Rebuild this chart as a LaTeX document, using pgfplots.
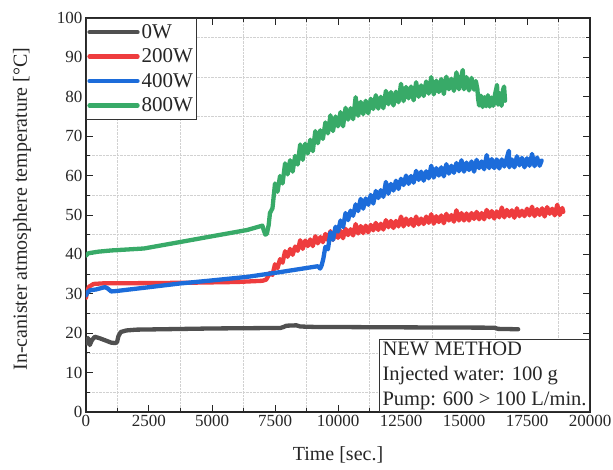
\documentclass[border=0pt]{standalone}
\usepackage{pgfplots}
\pgfplotsset{compat=1.18}
\usepackage{fontspec}
\setmainfont{Liberation Serif}

\definecolor{cgray}{RGB}{80,80,80}
\definecolor{cred}{RGB}{238,60,62}
\definecolor{cblue}{RGB}{28,108,218}
\definecolor{cgreen}{RGB}{56,170,104}

\begin{document}
\begin{tikzpicture}
\useasboundingbox (-86pt,-57pt) rectangle (527pt,412pt);
\begin{axis}[
  scale only axis,
  width=504pt, height=394pt,
  xmin=0, xmax=20000, ymin=0, ymax=100,
  xtick={0,2500,...,20000}, ytick={0,10,...,100},
  minor x tick num=1, minor y tick num=1,
  scaled x ticks=false,
  xticklabel={\textrm{\pgfmathprintnumber[assume math mode=true,1000 sep={},fixed,precision=0]{\tick}}},
  yticklabel={\textrm{\pgfmathprintnumber[assume math mode=true,fixed,precision=0]{\tick}}},
  tick label style={font=\fontsize{17}{18}\selectfont, black!85},
  label style={font=\fontsize{20}{22}\selectfont, black!85},
  xlabel={Time [sec.]},
  ylabel={In-canister atmosphere temperature [°C]},
  xlabel style={at={(axis description cs:0.5,-0.108)}, anchor=center},
  ylabel style={at={(axis description cs:-0.127,0.515)}, anchor=center},
  grid=minor,
  minor grid style={densely dotted, black!18, line width=0.8pt},
  major tick length=7pt, minor tick length=4pt,
  tick style={line width=1pt, black!85},
  axis line style={line width=1.2pt, black!85},
  every axis plot/.append style={line width=4.3pt, line join=round, line cap=round},
  legend style={at={(0,1)}, anchor=north west, draw=black!80, line width=0.8pt,
    font=\fontsize{21}{22}\selectfont, inner xsep=1pt, inner ysep=4pt,
    row sep=5pt, cells={anchor=west}, text=black!85},
  legend image code/.code={\draw[#1, line width=4.3pt, line cap=round] (0pt,0pt) -- (48pt,0pt);},
]
\addplot[cgray] coordinates {
(0,18.4)(30,17.4)(80,18.8)(150,17.0)(230,18.2)(350,19.1)(550,18.7)(800,18.1)
(1000,17.6)(1150,17.5)(1230,17.7)(1290,19.3)(1380,20.3)(1600,20.7)(2000,20.9)
(3000,21.0)(5000,21.2)(7000,21.3)(7700,21.3)(7850,21.6)(7950,21.9)(8350,22.0)
(8500,21.7)(9000,21.6)(12000,21.5)(16200,21.4)(16350,21.1)(17150,21.0)};
\addlegendentry{0W}
\addplot[cred] coordinates {
(0,29.0)(40,30.5)(120,31.8)(300,32.5)(800,32.7)(2000,32.7)(4000,32.8)(6000,33.0)
(7000,33.3)(7150,33.6)
(7300,35.3)(7400,34.8)(7500,37.5)(7600,36.5)(7700,38.8)(7800,37.9)(7900,40.8)(8000,39.4)
(8100,41.4)(8200,39.9)(8300,42.0)(8400,40.9)(8500,43.6)(8600,41.4)(8700,43.5)(8800,42.1)
(8900,43.8)(9000,42.1)(9100,44.6)(9200,42.8)(9300,44.4)(9400,43.1)(9500,45.2)(9600,43.6)
(9700,45.9)(9800,43.7)(9900,45.6)(10000,44.2)(10100,46.0)(10200,44.1)(10300,46.5)(10400,44.9)
(10500,46.4)(10600,44.8)(10700,47.7)(10800,45.3)(10900,47.2)(11000,45.4)(11100,47.3)(11200,45.6)
(11300,47.5)(11400,46.1)(11500,48.0)(11600,46.2)(11700,47.8)(11800,46.3)(11900,48.7)(12000,46.9)
(12100,48.5)(12200,46.7)(12300,48.5)(12400,47.1)(12500,49.6)(12600,47.1)(12700,49.1)(12800,47.5)
(12900,49.0)(13000,47.2)(13100,49.6)(13200,47.6)(13300,49.1)(13400,47.7)(13500,49.6)(13600,48.0)
(13700,50.2)(13800,47.8)(13900,49.7)(14000,48.2)(14100,49.9)(14200,47.9)(14300,50.3)(14400,48.6)
(14500,50.0)(14600,48.3)(14700,51.2)(14800,48.6)(14900,50.5)(15000,48.6)(15100,50.4)(15200,48.6)
(15300,50.5)(15400,49.0)(15500,50.8)(15600,48.9)(15700,50.5)(15800,48.9)(15900,51.3)(16000,49.4)
(16100,51.0)(16200,49.1)(16300,50.9)(16400,49.4)(16500,51.9)(16600,49.4)(16700,51.3)(16800,49.7)
(16900,51.2)(17000,49.3)(17100,51.7)(17200,49.7)(17300,51.1)(17400,49.7)(17500,51.6)(17600,49.9)
(17700,52.1)(17800,49.7)(17900,51.5)(18000,50.0)(18100,51.7)(18200,49.6)(18300,52.0)(18400,50.3)
(18500,51.6)(18600,49.9)(18700,52.6)(18800,50.0)(18900,51.8)(18940,50.8)};
\addlegendentry{200W}
\addplot[cblue] coordinates {
(0,29.6)(60,30.4)(160,30.9)(400,31.1)(750,31.7)(850,31.4)(1000,30.6)(1200,30.7)
(2400,31.6)(3700,32.6)(5000,33.4)(6400,34.3)(7700,35.5)(9200,37.0)(9290,36.4)
(9350,37.2)(9420,39.0)(9460,40.5)
(9500,41.9)(9600,41.3)(9700,45.6)(9800,43.7)(9900,47.0)(10000,45.8)(10100,48.6)(10200,46.9)
(10300,50.5)(10400,48.7)(10500,51.1)(10600,49.8)(10700,52.7)(10800,51.0)(10900,54.1)(11000,51.6)
(11100,54.2)(11200,52.6)(11300,55.1)(11400,52.9)(11500,56.1)(11600,54.3)(11700,56.3)(11800,54.6)
(11900,58.4)(12000,55.4)(12100,57.9)(12200,56.2)(12300,58.7)(12400,56.6)(12500,59.2)(12600,57.6)
(12700,60.0)(12800,57.9)(12900,59.9)(13000,58.2)(13100,61.2)(13200,58.9)(13300,61.0)(13400,58.7)
(13500,61.1)(13600,59.3)(13700,62.5)(13800,59.5)(13900,61.9)(14000,60.0)(14100,62.1)(14200,59.8)
(14300,62.9)(14400,60.5)(14500,62.5)(14600,60.7)(14700,63.2)(14800,61.1)(14900,63.9)(15000,61.0)
(15100,63.3)(15200,61.4)(15300,63.6)(15400,61.0)(15500,64.0)(15600,61.9)(15700,63.6)(15800,61.6)
(15900,65.2)(16000,61.9)(16100,64.2)(16200,61.9)(16300,64.1)(16400,61.8)(16500,64.1)(16600,62.3)
(16700,64.5)(16780,66.3)(16800,62.1)(16900,64.1)(17000,62.1)(17100,64.9)(17200,62.6)(17300,64.5)
(17400,62.1)(17500,64.4)(17600,62.5)(17700,65.5)(17800,62.4)(17900,64.6)(18000,62.5)(18080,63.8)};
\addlegendentry{400W}
\addplot[cgreen] coordinates {
(0,39.7)(100,40.3)(500,40.7)(1000,41.0)(2300,41.5)(3000,42.3)(3700,43.1)(5000,44.6)
(6400,46.2)(7000,47.3)(7050,46.2)(7120,45.0)(7180,45.3)(7250,47.5)
(7300,50.5)(7400,51.7)(7500,58.0)(7600,55.9)(7700,59.9)(7800,58.0)(7900,63.1)(8000,60.3)
(8100,63.9)(8200,61.0)(8300,65.0)(8400,62.8)(8500,67.9)(8600,64.0)(8700,68.1)(8800,65.6)
(8900,69.1)(9000,66.2)(9100,71.3)(9200,68.2)(9300,71.5)(9400,69.3)(9500,73.5)(9600,70.7)
(9700,75.3)(9800,71.3)(9900,75.0)(10000,72.5)(10100,76.1)(10200,72.5)(10300,77.2)(10400,74.2)
(10500,77.1)(10600,74.3)(10700,79.9)(10800,75.2)(10900,78.7)(11000,75.6)(11100,79.0)(11200,75.8)
(11300,79.5)(11400,76.9)(11500,80.4)(11600,77.0)(11700,80.0)(11800,77.1)(11900,81.5)(12000,78.1)
(12100,81.2)(12200,77.8)(12300,81.3)(12400,78.6)(12500,83.3)(12600,78.9)(12700,82.5)(12800,79.6)
(12900,82.6)(13000,79.1)(13100,83.7)(13200,80.0)(13300,82.9)(13400,80.2)(13500,83.9)(13600,80.8)
(13700,85.0)(13800,80.6)(13900,84.1)(14000,81.2)(14100,84.5)(14200,80.7)(14300,85.1)(14400,81.9)
(14500,84.6)(14600,81.5)(14700,86.2)(14800,81.9)(14900,85.3)(14950,86.8)(15000,81.9)(15100,85.0)
(15200,81.6)(15300,84.8)(15400,81.8)(15470,84.0)(15530,82.0)(15560,79.5)
(15600,77.8)(15670,80.3)(15740,77.4)(15810,79.9)(15880,77.6)(15950,80.4)(16020,77.5)(16090,79.8)
(16160,77.7)(16230,80.6)(16280,82.0)(16310,83.0)(16350,78.0)(16420,80.9)(16490,77.7)(16550,81.8)
(16590,82.6)(16630,79.0)};
\addlegendentry{800W}
\node[draw=black!80, line width=0.8pt, fill=white, anchor=south east, align=left,
  font=\fontsize{20.5}{25}\selectfont, text=black!85, inner xsep=3pt, inner ysep=2pt]
  at (rel axis cs:1,0) {NEW METHOD\\Injected water: 100 g\\Pump: 600 > 100 L/min.};
\end{axis}
\end{tikzpicture}
\end{document}
